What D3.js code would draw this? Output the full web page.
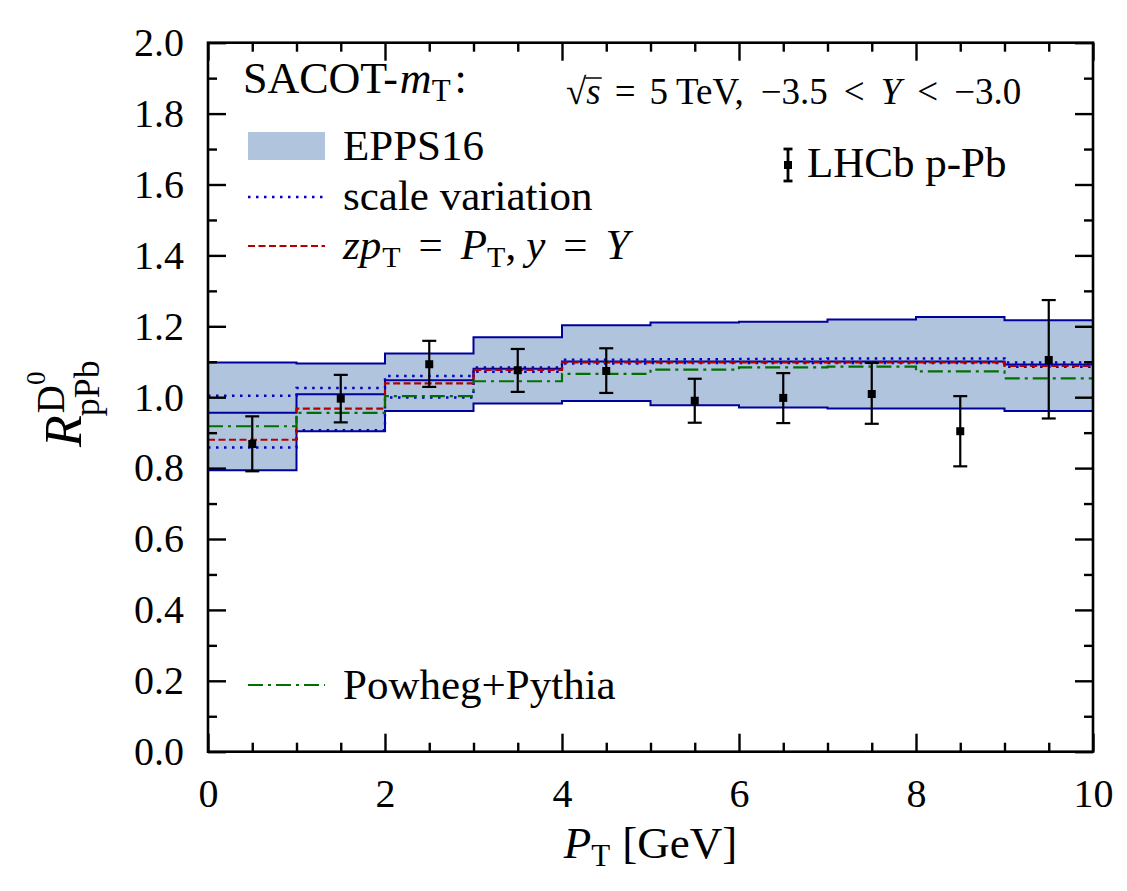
<!DOCTYPE html>
<html lang="en">
<head>
  <meta charset="UTF-8">
  <script src="https://d3js.org/d3.v7.min.js"></script>
  <title>R_pPb D0</title>
  <style>
    body { margin: 0; background: #fff; }
    text { font-family: "Liberation Serif", "Times New Roman", serif; fill: #000; }
  </style>
</head>
<body>
  <script>
    /*======*/
    /* Data */
    /*======*/
    const binEdges = [0, 1, 2, 3, 4, 5, 6, 7, 8, 9, 10];

    // EPPS16 band (SACOT-mT)
    const eppsLow     = [0.794, 0.904, 0.961, 0.982, 0.989, 0.977, 0.971, 0.968, 0.968, 0.961];
    const eppsHigh    = [1.098, 1.095, 1.123, 1.169, 1.203, 1.211, 1.213, 1.219, 1.226, 1.217];
    const eppsCentral = [0.956, 1.008, 1.048, 1.080, 1.101, 1.101, 1.101, 1.101, 1.101, 1.092];

    // scale variation envelope
    const scaleUp   = [1.004, 1.026, 1.060, 1.084, 1.106, 1.107, 1.108, 1.109, 1.109, 1.098];
    const scaleDown = [0.858, 0.907, 0.999, 1.072, 1.095, 1.096, 1.096, 1.096, 1.096, 1.086];

    // zpT = PT, y = Y
    const zptLine = [0.880, 0.968, 1.039, 1.077, 1.098, 1.098, 1.098, 1.098, 1.098, 1.088];

    // Powheg+Pythia
    const powheg = [0.918, 0.956, 1.003, 1.045, 1.066, 1.078, 1.084, 1.086, 1.073, 1.053];

    // LHCb p-Pb data
    const lhcbX  = [0.5, 1.5, 2.5, 3.5, 4.5, 5.5, 6.5, 7.5, 8.5, 9.5];
    const lhcbY  = [0.868, 0.996, 1.093, 1.076, 1.074, 0.990, 0.998, 1.009, 0.904, 1.105];
    const lhcbLo = [0.791, 0.929, 1.029, 1.015, 1.012, 0.928, 0.927, 0.925, 0.805, 0.940];
    const lhcbHi = [0.946, 1.063, 1.159, 1.136, 1.138, 1.052, 1.068, 1.097, 1.003, 1.274];

    const xTicks = [0, 2, 4, 6, 8, 10];
    const yTicks = [0, 0.2, 0.4, 0.6, 0.8, 1.0, 1.2, 1.4, 1.6, 1.8, 2.0];


    /*=======*/
    /* Setup */
    /*=======*/
    const width = 1127, height = 891;
    const pLeft = 208, pRight = 1093, pTop = 42.7, pBottom = 751.7;

    const svg = d3.select("body").append("svg")
                  .attr("width", width)
                  .attr("height", height);

    const x = d3.scaleLinear().domain([0, 10]).range([pLeft, pRight]);
    const y = d3.scaleLinear().domain([0, 2]).range([pBottom, pTop]);

    const steps = vals => vals.map((v, i) => [binEdges[i], v]).concat([[binEdges[10], vals[vals.length - 1]]]);

    const stepLine = d3.line().x(d => x(d[0])).y(d => y(d[1])).curve(d3.curveStepAfter);

    // text pieces placed one after another (for sub/superscripts)
    function rich(g, x0, y0, pieces) {
      let cx = x0;
      pieces.forEach(p => {
        const t = g.append("text")
                   .attr("x", cx)
                   .attr("y", y0 + (p.dy || 0))
                   .attr("font-size", p.size || 42)
                   .attr("font-style", p.it ? "italic" : "normal")
                   .text(p.t);
        cx += t.node().getComputedTextLength() + (p.gap || 0);
      });
      return cx - x0;
    }


    /*======*/
    /* Band */
    /*======*/
    const bandData = eppsLow.map((v, i) => [binEdges[i], v, eppsHigh[i]])
                            .concat([[10, eppsLow[9], eppsHigh[9]]]);

    svg.append("path")
      .attr("d", d3.area().x(d => x(d[0])).y0(d => y(d[1])).y1(d => y(d[2])).curve(d3.curveStepAfter)(bandData))
      .attr("fill", "#b0c4de");

    [eppsLow, eppsHigh, eppsCentral].forEach(arr => {
      svg.append("path")
        .attr("d", stepLine(steps(arr)))
        .attr("fill", "none")
        .attr("stroke", "#00009a")
        .attr("stroke-width", 2);
    });


    /*=======*/
    /* Lines */
    /*=======*/
    [scaleUp, scaleDown].forEach(arr => {
      svg.append("path")
        .attr("d", stepLine(steps(arr)))
        .attr("fill", "none")
        .attr("stroke", "#0000c8")
        .attr("stroke-width", 2.4)
        .attr("stroke-dasharray", "2.5,5.5");
    });

    svg.append("path")
      .attr("d", stepLine(steps(zptLine)))
      .attr("fill", "none")
      .attr("stroke", "#b00000")
      .attr("stroke-width", 2.2)
      .attr("stroke-dasharray", "7,3.5");

    svg.append("path")
      .attr("d", stepLine(steps(powheg)))
      .attr("fill", "none")
      .attr("stroke", "#007000")
      .attr("stroke-width", 2.2)
      .attr("stroke-dasharray", "15,5,3,5");


    /*===========*/
    /* LHCb data */
    /*===========*/
    const pts = svg.append("g").selectAll("g")
      .data(lhcbX.map((v, i) => ({ x: v, y: lhcbY[i], lo: lhcbLo[i], hi: lhcbHi[i] })))
      .enter().append("g");

    pts.append("line")
      .attr("x1", d => x(d.x)).attr("x2", d => x(d.x))
      .attr("y1", d => y(d.lo)).attr("y2", d => y(d.hi))
      .attr("stroke", "#000").attr("stroke-width", 2.2);
    ["lo", "hi"].forEach(k => {
      pts.append("line")
        .attr("x1", d => x(d.x) - 7).attr("x2", d => x(d.x) + 7)
        .attr("y1", d => y(d[k])).attr("y2", d => y(d[k]))
        .attr("stroke", "#000").attr("stroke-width", 2.2);
    });
    pts.append("rect")
      .attr("x", d => x(d.x) - 4).attr("y", d => y(d.y) - 4)
      .attr("width", 8).attr("height", 8)
      .attr("fill", "#000");


    /*======*/
    /* Axes */
    /*======*/
    const minorX = d3.range(0, 10.01, 0.5).filter(v => v % 2 !== 0);
    const minorY = d3.range(0, 2.001, 0.1).map(v => +v.toFixed(1)).filter(v => Math.round(v * 10) % 2 !== 0);

    const axes = [
      [d3.axisBottom(x).tickValues(xTicks).tickFormat(d3.format("d")), `translate(0,${pBottom})`, true],
      [d3.axisBottom(x).tickValues(minorX), `translate(0,${pBottom})`, false],
      [d3.axisTop(x).tickValues(xTicks), `translate(0,${pTop})`, false],
      [d3.axisTop(x).tickValues(minorX), `translate(0,${pTop})`, false],
      [d3.axisLeft(y).tickValues(yTicks).tickFormat(d3.format(".1f")), `translate(${pLeft},0)`, true],
      [d3.axisLeft(y).tickValues(minorY), `translate(${pLeft},0)`, false],
      [d3.axisRight(y).tickValues(yTicks), `translate(${pRight},0)`, false],
      [d3.axisRight(y).tickValues(minorY), `translate(${pRight},0)`, false]
    ];

    axes.forEach(([ax, tr, labels], i) => {
      const major = i % 2 === 0;
      ax.tickSize(major ? -18 : -9).tickPadding(i < 4 ? 27 : 24);
      if (!labels) ax.tickFormat("");
      const g = svg.append("g").attr("transform", tr).call(ax);
      g.attr("font-family", null);
      g.select(".domain").remove();
      g.selectAll(".tick line").attr("stroke", "#000").attr("stroke-width", 2.4);
      g.selectAll(".tick text")
        .attr("font-size", 40)
        .attr("fill", "#000");
    });

    svg.append("rect")
      .attr("x", pLeft).attr("y", pTop)
      .attr("width", pRight - pLeft).attr("height", pBottom - pTop)
      .attr("fill", "none")
      .attr("stroke", "#000")
      .attr("stroke-width", 2.6);


    /*=============*/
    /* Axis titles */
    /*=============*/
    const xt = svg.append("g");
    const xw = rich(xt, 0, 858, [
      { t: "P", it: true, size: 45 },
      { t: "T", size: 31, dy: 8, gap: 12 },
      { t: "[GeV]", size: 45 }
    ]);
    xt.attr("transform", `translate(${(pLeft + pRight) / 2 - xw / 2},0)`);

    const yt = svg.append("g").attr("transform", "translate(81,447) rotate(-90)");
    const rw = rich(yt, 0, 0, [{ t: "R", it: true, size: 52 }]);
    const dw = rich(yt, rw + 2, -17, [{ t: "D", size: 39 }]);
    rich(yt, rw + 2 + dw, -36, [{ t: "0", size: 27 }]);
    rich(yt, rw - 1, 18, [{ t: "pPb", size: 36 }]);


    /*========*/
    /* Legend */
    /*========*/
    rich(svg, 243, 93, [
      { t: "SACOT-", size: 44, gap: 2 },
      { t: "m", it: true, size: 44 },
      { t: "T", size: 31, dy: 8, gap: 4 },
      { t: ":", size: 44 }
    ]);

    svg.append("rect")
      .attr("x", 248).attr("y", 132).attr("width", 77).attr("height", 28)
      .attr("fill", "#b0c4de");
    svg.append("text").attr("x", 343).attr("y", 160).attr("font-size", 43).text("EPPS16");

    const legLine = (yy, color, dash, w) => svg.append("line")
      .attr("x1", 248).attr("x2", 325).attr("y1", yy).attr("y2", yy)
      .attr("stroke", color).attr("stroke-width", w).attr("stroke-dasharray", dash);

    legLine(197, "#0000c8", "2.5,5.5", 2.4);
    svg.append("text").attr("x", 343).attr("y", 210).attr("font-size", 43).text("scale variation");

    legLine(246, "#b00000", "7,3.5", 2.2);
    rich(svg, 343, 259, [
      { t: "zp", it: true, size: 43, gap: 1 },
      { t: "T", size: 30, dy: 8, gap: 18 },
      { t: "=", size: 43, gap: 18 },
      { t: "P", it: true, size: 43 },
      { t: "T", size: 30, dy: 8 },
      { t: ",", size: 43, gap: 10 },
      { t: "y", it: true, size: 43, gap: 18 },
      { t: "=", size: 43, gap: 18 },
      { t: "Y", it: true, size: 43 }
    ]);

    legLine(685, "#007000", "15,5,3,5", 2.2);
    svg.append("text").attr("x", 343).attr("y", 699).attr("font-size", 43).text("Powheg+Pythia");

    // LHCb marker
    const mk = svg.append("g").attr("transform", "translate(788,165)");
    mk.append("line").attr("y1", -16).attr("y2", 16).attr("stroke", "#000").attr("stroke-width", 2.8);
    [-16, 16].forEach(v => mk.append("line").attr("x1", -4.5).attr("x2", 4.5).attr("y1", v).attr("y2", v)
      .attr("stroke", "#000").attr("stroke-width", 2.8));
    mk.append("rect").attr("x", -4).attr("y", -4).attr("width", 8).attr("height", 8).attr("fill", "#000");
    svg.append("text").attr("x", 807).attr("y", 177).attr("font-size", 43).text("LHCb p-Pb");

    // energy / rapidity annotation
    const an = svg.append("g");
    const aw1 = rich(an, 566, 104, [{ t: "\u221A", size: 37 }]);
    const aw2 = rich(an, 566 + aw1, 104, [{ t: "s", it: true, size: 37 }]);
    an.append("line")
      .attr("x1", 566 + aw1 - 1).attr("x2", 566 + aw1 + aw2 + 1)
      .attr("y1", 104 - 26).attr("y2", 104 - 26)
      .attr("stroke", "#000").attr("stroke-width", 1.5);
    rich(an, 566 + aw1 + aw2 + 14, 104, [
      { t: "=", size: 37, gap: 14 },
      { t: "5", size: 37, gap: 8 },
      { t: "TeV,", size: 37, gap: 17 },
      { t: "\u22123.5", size: 37, gap: 16 },
      { t: "<", size: 37, gap: 16 },
      { t: "Y", it: true, size: 37, gap: 16 },
      { t: "<", size: 37, gap: 16 },
      { t: "\u22123.0", size: 37 }
    ]);
  </script>
</body>
</html>
